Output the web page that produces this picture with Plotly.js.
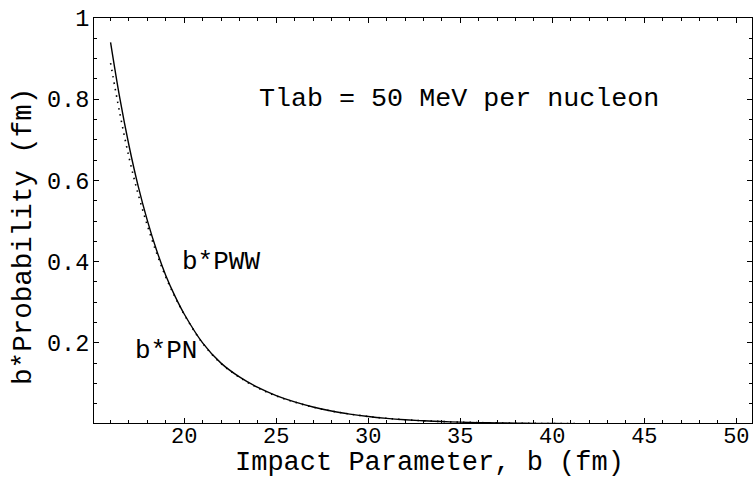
<!DOCTYPE html>
<html>
<head>
<meta charset="utf-8">
<script src="https://cdn.plot.ly/plotly-3.0.1.min.js"></script>
<style>html,body{margin:0;padding:0;background:#fff;}#chart{width:755px;height:481px;}</style>
</head>
<body>
<div id="chart"></div>
<script>
// Impact parameter b (fm)
var bValues = [16, 16.5, 17, 17.5, 18, 18.5, 19, 19.5, 20, 21, 22, 23, 24, 25, 26, 27, 28, 29, 30, 31, 32, 33, 34, 35, 36, 37, 38, 39, 40, 42, 44, 46, 48, 50];
// b*PN (solid)
var bPN = [0.940, 0.803, 0.686, 0.586, 0.501, 0.428, 0.366, 0.315, 0.271, 0.200, 0.150, 0.116, 0.090, 0.070, 0.0545, 0.042, 0.032, 0.0245, 0.0185, 0.014, 0.0106, 0.0080, 0.0061, 0.0046, 0.0035, 0.0027, 0.0021, 0.0016, 0.0012, 0.0007, 0.0004, 0.00025, 0.00015, 0.0001];
// b*PWW (dotted)
var bPWW = [0.889, 0.766, 0.657, 0.566, 0.489, 0.421, 0.362, 0.313, 0.270, 0.199, 0.149, 0.115, 0.089, 0.069, 0.054, 0.0415, 0.032, 0.0245, 0.0185, 0.014, 0.0106, 0.0080, 0.0061, 0.0046, 0.0035, 0.0027, 0.0021, 0.0016, 0.0012, 0.0007, 0.0004, 0.00025, 0.00015, 0.0001];

var xTickVals = [20, 25, 30, 35, 40, 45, 50];
var xTickText = ['20', '25', '30', '35', '40', '45', '50'];
var yTickVals = [0.2, 0.4, 0.6, 0.8, 1];
var yTickText = ['0.2', '0.4', '0.6', '0.8', '1'];

var mono = 'Liberation Mono, Courier New, monospace';

var traces = [
  {x: bValues, y: bPWW, mode: 'lines', line: {color: '#000', width: 1.6, dash: '1.5px,5px', shape: 'spline'}, hoverinfo: 'skip'},
  {x: bValues, y: bPN, mode: 'lines', line: {color: '#000', width: 1.4, shape: 'spline'}, hoverinfo: 'skip'}
];

var layout = {
  width: 755, height: 481,
  margin: {l: 94, r: 3, t: 18, b: 58},
  paper_bgcolor: '#fff', plot_bgcolor: '#fff',
  showlegend: false,
  font: {family: mono, color: '#000'},
  xaxis: {
    range: [15.1, 50.85],
    tickmode: 'array', tickvals: xTickVals, ticktext: xTickText,
    ticks: 'inside', ticklen: 5, tickwidth: 1, tickcolor: '#000',
    minor: {tickmode: 'linear', tick0: 0, dtick: 1, ticks: 'inside', ticklen: 3, tickcolor: '#000', showgrid: false},
    showline: true, linecolor: '#000', linewidth: 1, mirror: 'allticks',
    showgrid: false, zeroline: false,
    tickfont: {family: mono, size: 22, color: '#000'},
    ticklabelstandoff: -7
  },
  yaxis: {
    range: [0.0025, 1.0],
    tickmode: 'array', tickvals: yTickVals, ticktext: yTickText,
    ticks: 'inside', ticklen: 5, tickwidth: 1, tickcolor: '#000',
    minor: {tickmode: 'linear', tick0: 0, dtick: 0.05, ticks: 'inside', ticklen: 3, tickcolor: '#000', showgrid: false},
    showline: true, linecolor: '#000', linewidth: 1, mirror: 'allticks',
    showgrid: false, zeroline: false,
    tickfont: {family: mono, size: 23.5, color: '#000'},
    ticklabelstandoff: -1
  },
  annotations: [
    {x: 0.5101, y: -0.0988, xref: 'paper', yref: 'paper', xanchor: 'center', yanchor: 'middle', borderpad: 0, text: 'Impact Parameter, b (fm)', showarrow: false, font: {family: mono, size: 27, color: '#000'}},
    {x: -0.1064, y: 0.462, xref: 'paper', yref: 'paper', xanchor: 'center', yanchor: 'middle', textangle: -90, text: 'b*Probability (fm)', showarrow: false, font: {family: mono, size: 27.5, color: '#000'}},
    {x: 34.95, y: 0.80, xref: 'x', yref: 'y', text: 'Tlab = 50 MeV per nucleon', showarrow: false, font: {family: mono, size: 26.7, color: '#000'}},
    {x: 21.98, y: 0.40, xref: 'x', yref: 'y', text: 'b*PWW', showarrow: false, font: {family: mono, size: 26, color: '#000'}},
    {x: 18.99, y: 0.18, xref: 'x', yref: 'y', text: 'b*PN', showarrow: false, font: {family: mono, size: 26, color: '#000'}}
  ]
};

Plotly.newPlot('chart', traces, layout, {staticPlot: true, displayModeBar: false});
</script>
</body>
</html>
